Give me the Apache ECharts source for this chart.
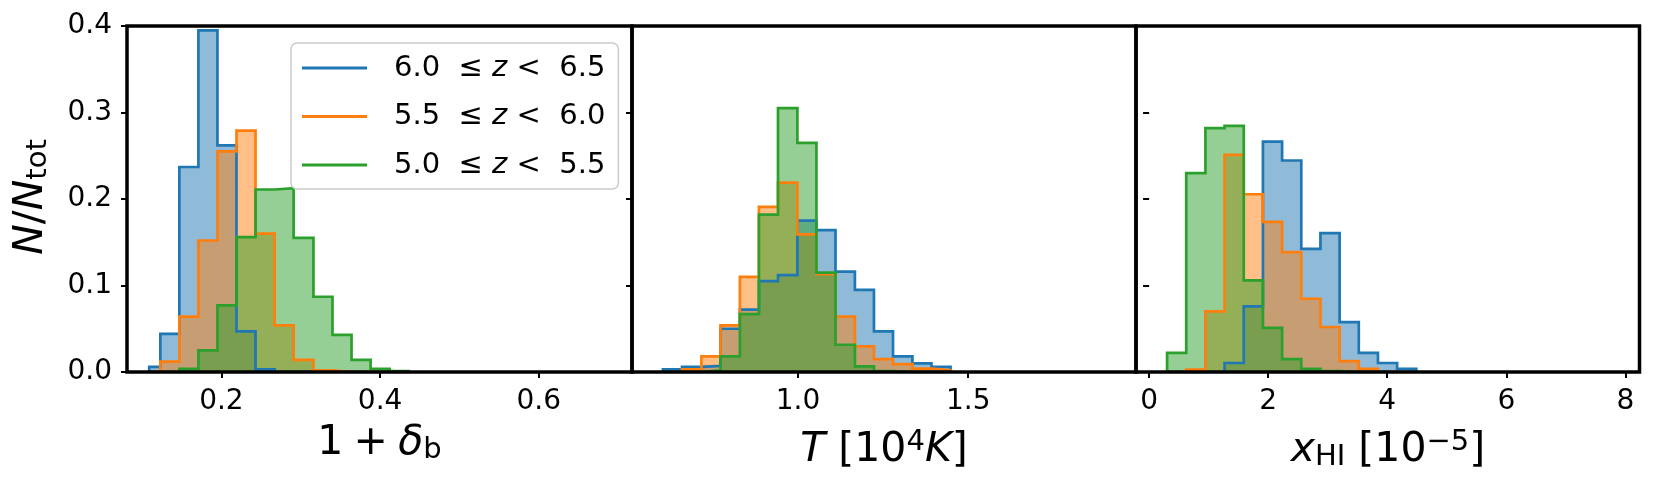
<!DOCTYPE html>
<html><head><meta charset="utf-8">
<script src="https://cdn.jsdelivr.net/npm/echarts@6/dist/echarts.min.js"></script>
<style>html,body{margin:0;padding:0;background:#fff}#c{width:1662px;height:488px}</style>
</head><body><div id="c"></div>
<script>
// ---- data ----
const zLow = ['6.0', '5.5', '5.0'];
const zHigh = ['6.5', '6.0', '5.5'];
const seriesNames = ['6.0 ≤ z < 6.5', '5.5 ≤ z < 6.0', '5.0 ≤ z < 5.5'];
const colors = ['#1f77b4', '#ff7f0e', '#2ca02c'];

// Panel 1: 1 + delta_b
const densityEdges = [0.109,0.123,0.147,0.171,0.195,0.219,0.243,0.267,0.291,0.316,0.340,0.364,0.388,0.412,0.436];
const densityBlue   = [0.006,0.044,0.237,0.395,0.262,0.047,0.003,0,0,0,0,0,0,0];
const densityOrange = [0.001,0.012,0.064,0.152,0.255,0.279,0.160,0.054,0.014,0.002,0,0,0,0];
const densityGreen  = [0,0,0.0035,0.025,0.077,0.156,0.211,0.2125,0.155,0.087,0.043,0.014,0.0035,0.001];
const densityTicks = [0.2, 0.4, 0.6];

// Panel 2: T [10^4 K]
const tempEdges = [0.603,0.659,0.716,0.772,0.829,0.885,0.941,0.998,1.054,1.110,1.167,1.223,1.279,1.336,1.392,1.448];
const tempBlue   = [0.003,0.006,0.007,0.050,0.072,0.105,0.112,0.175,0.164,0.116,0.095,0.047,0.018,0.010,0.006];
const tempOrange = [0,0.003,0.018,0.054,0.110,0.191,0.219,0.159,0.113,0.064,0.0296,0.015,0.009,0.004,0.002];
const tempGreen  = [0,0,0.002,0.018,0.067,0.182,0.305,0.265,0.115,0.0315,0.0065,0.001,0,0,0];
const tempTicks = [1.0, 1.5];

// Panel 3: x_HI [10^-5]
const xhiEdges = [0.302,0.624,0.946,1.268,1.590,1.912,2.234,2.556,2.878,3.200,3.522,3.844,4.166,4.488];
const xhiBlue   = [0,0,0,0.0104,0.0758,0.2664,0.2445,0.1424,0.1606,0.0577,0.022,0.0104,0.0035];
const xhiOrange = [0,0.0027,0.070,0.251,0.2055,0.1736,0.1386,0.0847,0.052,0.0125,0.0035,0,0];
const xhiGreen  = [0.022,0.230,0.282,0.2845,0.106,0.051,0.015,0.0035,0.001,0,0,0,0];
const xhiTicks = [0, 2, 4, 6, 8];

// ---- layout ----
const FONT = 'DejaVu Sans';
const panels = [
  {edges: densityEdges, vals: [densityBlue, densityOrange, densityGreen], min: 0.081, max: 0.7175, ticks: densityTicks, fmt: v => v.toFixed(1)},
  {edges: tempEdges, vals: [tempBlue, tempOrange, tempGreen], min: 0.512, max: 1.993, ticks: tempTicks, fmt: v => v.toFixed(1)},
  {edges: xhiEdges, vals: [xhiBlue, xhiOrange, xhiGreen], min: -0.22, max: 8.237, ticks: xhiTicks, fmt: v => String(v)}
];
const gridLeft = [127, 632, 1136];
const gridWidth = [505, 504, 503.5];

function stepPoints(edges, vals) {
  const pts = [[edges[0], 0]];
  for (let i = 0; i < vals.length; i++) {
    pts.push([edges[i], vals[i]]);
    pts.push([edges[i + 1], vals[i]]);
  }
  pts.push([edges[vals.length], 0]);
  return pts;
}

const grids = [], xAxes = [], yAxes = [], series = [];
panels.forEach((p, k) => {
  grids.push({left: gridLeft[k], top: 26, width: gridWidth[k], height: 346,
    show: true, borderColor: '#000', borderWidth: 3.5, backgroundColor: 'transparent', z: 10});
  xAxes.push({type: 'value', gridIndex: k, min: p.min, max: p.max, z: 10,
    axisLine: {show: false}, splitLine: {show: false},
    axisTick: {show: true, length: 6, lineStyle: {color: '#000', width: 2}, customValues: p.ticks},
    axisLabel: {show: true, customValues: p.ticks, formatter: p.fmt, margin: 16,
      fontFamily: FONT, fontSize: 28, color: '#000'}});
  yAxes.push({type: 'value', gridIndex: k, min: 0, max: 0.4, interval: 0.1, z: 10,
    axisLine: {show: false}, splitLine: {show: false},
    axisTick: {show: true, length: 6, lineStyle: {color: '#000', width: 2}},
    axisLabel: {show: k === 0, formatter: v => v.toFixed(1), margin: 15,
      fontFamily: FONT, fontSize: 28, color: '#000'}});
  // fills
  p.vals.forEach((v, s) => {
    series.push({type: 'line', name: 'fill' + k + s, xAxisIndex: k, yAxisIndex: k,
      data: stepPoints(p.edges, v), showSymbol: false, silent: true, z: 2,
      lineStyle: {width: 0, opacity: 0}, itemStyle: {color: colors[s]},
      areaStyle: {color: colors[s], opacity: 0.5, origin: 'start'}, animation: false});
  });
});
panels.forEach((p, k) => {
  p.vals.forEach((v, s) => {
    series.push({type: 'line', name: seriesNames[s], xAxisIndex: k, yAxisIndex: k,
      data: stepPoints(p.edges, v), showSymbol: false, silent: true, z: 3,
      lineStyle: {width: 2.7, color: colors[s], join: 'miter'}, itemStyle: {color: colors[s]},
      animation: false});
  });
});

const titleRich = {
  r: {fontFamily: FONT, fontSize: 41, lineHeight: 44, verticalAlign: 'middle'},
  i: {fontFamily: FONT, fontSize: 41, lineHeight: 44, fontStyle: 'italic', verticalAlign: 'middle'},
  sub: {fontFamily: FONT, fontSize: 29, lineHeight: 24, verticalAlign: 'bottom'},
  sup: {fontFamily: FONT, fontSize: 29, lineHeight: 29, verticalAlign: 'top'}
};
function titleText(x, y, text, rot) {
  return {type: 'text', x: x, y: y, rotation: rot || 0, z: 20,
    style: {text: text, rich: titleRich, fill: '#000', align: 'center', verticalAlign: 'middle',
      fontFamily: FONT, fontSize: 41}};
}

const option = {
  animation: false,
  grid: grids, xAxis: xAxes, yAxis: yAxes, series: series,
  legend: {
    data: seriesNames, orient: 'vertical', left: 291, top: 43,
    icon: 'rect', itemWidth: 65, itemHeight: 3, itemGap: 18.5, selectedMode: false,
    padding: [10, 13, 9, 11],
    backgroundColor: 'rgba(255,255,255,0.8)', borderColor: '#cccccc', borderWidth: 1.5, borderRadius: 6,
    z: 15,
    formatter: name => {
      const i = seriesNames.indexOf(name);
      return '{a|' + zLow[i] + '  ≤ }{i|z}{r| <  ' + zHigh[i] + '}';
    },
    textStyle: {fontFamily: FONT, fontSize: 29, color: '#000', lineHeight: 30,
      rich: {
        a: {fontFamily: FONT, fontSize: 29, padding: [0, 0, 0, 22]},
        r: {fontFamily: FONT, fontSize: 29},
        i: {fontFamily: FONT, fontSize: 29, fontStyle: 'italic'}
      }}
  },
  graphic: [
    titleText(379.5, 443, '{r|1\u2005+\u2005}{i|δ}{sub|b}'),
    titleText(884, 450, '{i|T}{r| [10}{sup|4}{i|K}{r|]}'),
    titleText(1388, 450, '{i|x}{sub|HI}{r| [10}{sup|−5}{r|]}'),
    titleText(31, 197, '{i|N}{r|/}{i|N}{sub|tot}', Math.PI / 2)
  ]
};
const chart = echarts.init(document.getElementById('c'), null, {renderer: 'canvas'});
chart.setOption(option);
</script>
</body></html>
